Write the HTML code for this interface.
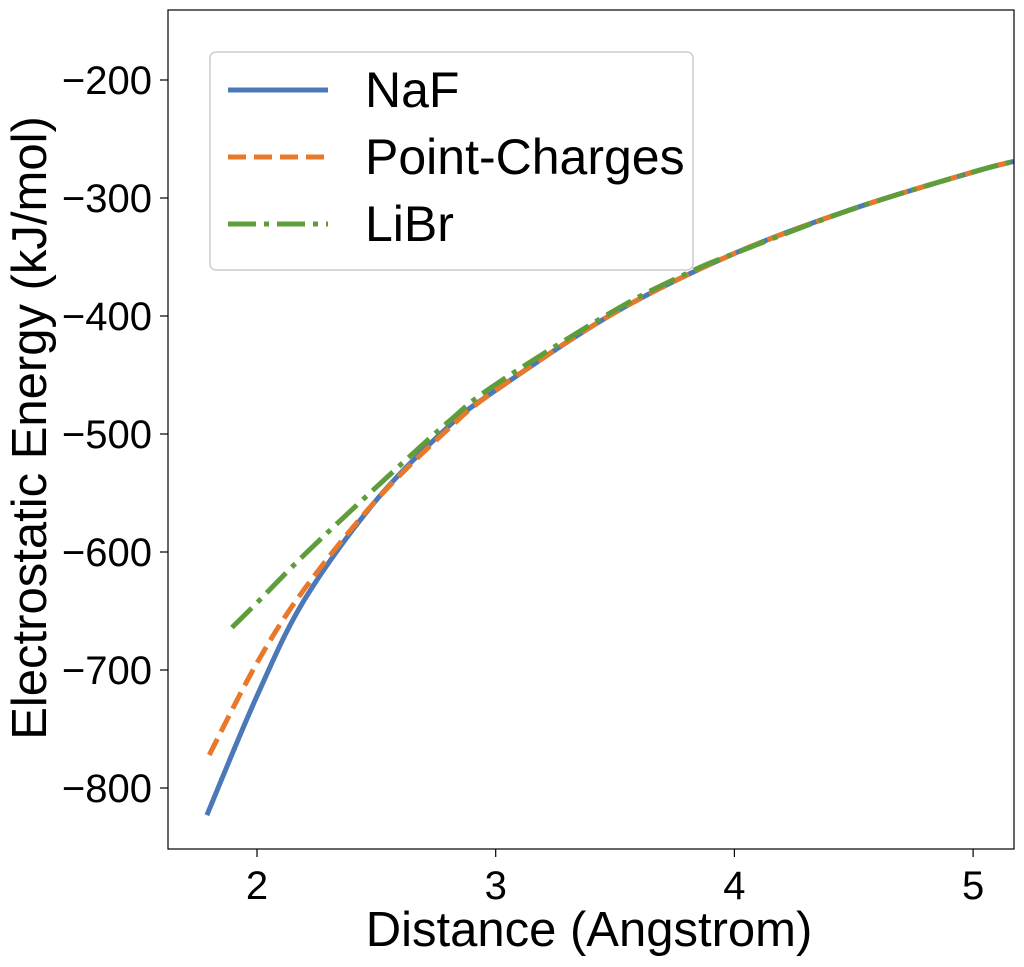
<!DOCTYPE html>
<html><head><meta charset="utf-8"><style>
html,body{margin:0;padding:0;background:#fff;}
svg text{font-family:"Liberation Sans",sans-serif;fill:#000;}
</style></head><body>
<svg id="chart" width="1024" height="962" xmlns="http://www.w3.org/2000/svg">
<rect x="0" y="0" width="1024" height="962" fill="#fff"/>
<g id="plot"></g>
<g id="axes"></g>
<g>
<rect x="210" y="52" width="483" height="218" rx="6" fill="#fff" fill-opacity="0.8" stroke="#ccc" stroke-width="1.5"/>
<line x1="228" y1="90" x2="328" y2="90" stroke="#4c78b8" stroke-width="5"/>
<text x="365" y="107" font-size="50">NaF</text>
<line x1="228" y1="157" x2="328" y2="157" stroke="#e8782a" stroke-width="5" stroke-dasharray="18,8"/>
<text x="365" y="174" font-size="50">Point-Charges</text>
<line x1="228" y1="224" x2="328" y2="224" stroke="#5e9e3a" stroke-width="5" stroke-dasharray="28,8,5,8"/>
<text x="365" y="241" font-size="50">LiBr</text>
</g>
</svg>
<script>
const xTicks=[2,3,4,5];
const yTicks=[-200,-300,-400,-500,-600,-700,-800];
const yTickLabels=["\u2212200","\u2212300","\u2212400","\u2212500","\u2212600","\u2212700","\u2212800"];
const nafR=[1.79,2.0,2.2,2.5,2.8,3.0,3.5,4.0,4.5,5.0,5.17];
const nafE=[-823,-722,-640,-556,-494,-463,-397,-347,-309,-278,-269];
const pcR=[1.8,2.0,2.2,2.5,2.8,3.0,3.5,4.0,4.5,5.0,5.17];
const pcE=[-772,-694,-631,-556,-496,-463,-397,-347,-309,-278,-269];
const librR=[1.895,2.0,2.2,2.5,2.8,3.0,3.5,3.8,4.0,4.5,5.0,5.17];
const librE=[-664,-643,-602,-545,-490,-458,-395,-364,-347,-309,-278,-269];

const L=168,R=1014,T=10,B=849;
const x=v=>257+(v-2)*238.7;
const y=v=>80+(-200-v)*1.18;
const NS="http://www.w3.org/2000/svg";
const plot=document.getElementById('plot'),axes=document.getElementById('axes');
function mk(t,a,p){const e=document.createElementNS(NS,t);for(const k in a)e.setAttribute(k,a[k]);p.appendChild(e);return e;}
const clip=mk('clipPath',{id:'cp'},plot);mk('rect',{x:L,y:T,width:R-L,height:B-T},clip);
function path(rs,es){const p=rs.map((r,i)=>[x(r),y(es[i])]);let d='M'+p[0][0]+','+p[0][1];
for(let i=0;i<p.length-1;i++){const p0=p[i-1]||p[i],p1=p[i],p2=p[i+1],p3=p[i+2]||p2;
d+=' C'+(p1[0]+(p2[0]-p0[0])/6)+','+(p1[1]+(p2[1]-p0[1])/6)+' '+(p2[0]-(p3[0]-p1[0])/6)+','+(p2[1]-(p3[1]-p1[1])/6)+' '+p2[0]+','+p2[1];}return d;}
let e;
e=mk('path',{d:path(nafR,nafE),fill:'none',stroke:'#4c78b8','stroke-width':5,'clip-path':'url(#cp)'},plot);


e=mk('path',{d:path(pcR,pcE),fill:'none',stroke:'#e8782a','stroke-width':5,'stroke-dasharray':'18,8','clip-path':'url(#cp)'},plot);


e=mk('path',{d:path(librR,librE),fill:'none',stroke:'#5e9e3a','stroke-width':5,'stroke-dasharray':'28,8,5,8','clip-path':'url(#cp)'},plot);


e=mk('rect',{x:L,y:T,width:R-L,height:B-T,fill:'none',stroke:'#000','stroke-width':1.2},axes);


xTicks.forEach(v=>{mk('line',{x1:x(v),x2:x(v),y1:B,y2:B+8,stroke:'#000','stroke-width':1.2},axes);
e=mk('text',{x:x(v),y:B+50,'font-size':40,'text-anchor':'middle'},axes);e.textContent=v;

});
yTicks.forEach((v,i)=>{mk('line',{x1:L-8,x2:L,y1:y(v),y2:y(v),stroke:'#000','stroke-width':1.2},axes);
e=mk('text',{x:L-16,y:y(v)+14,'font-size':40,'text-anchor':'end'},axes);e.textContent=yTickLabels[i];

});
e=mk('text',{x:589,y:946,'font-size':49,'text-anchor':'middle'},axes);e.textContent='Distance (Angstrom)';


e=mk('text',{x:0,y:0,'font-size':49,'text-anchor':'middle',transform:'translate(46,428) rotate(-90)'},axes);e.textContent='Electrostatic Energy (kJ/mol)';


</script>
</body></html>
